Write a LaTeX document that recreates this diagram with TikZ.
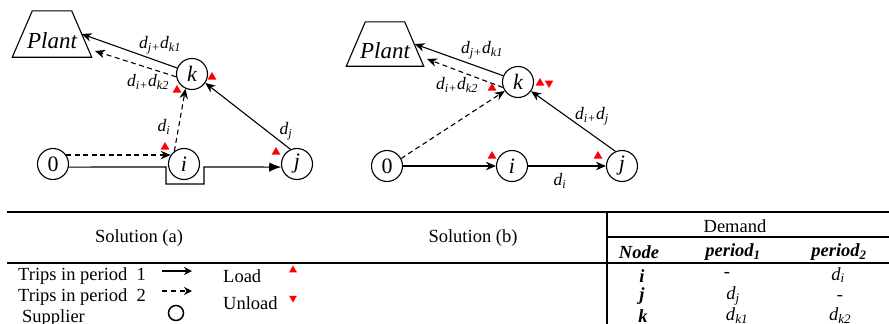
\documentclass[tikz,border=0pt]{standalone}
\usepackage{fontspec}
\setmainfont{Liberation Serif}
\usetikzlibrary{arrows.meta,shapes.geometric,calc}
\newcommand{\dsub}[1]{\textit{d}\textsubscript{\itshape #1}}
\begin{document}
\begin{tikzpicture}[x=1pt,y=-1pt,
  stop/.style={circle,draw,line width=1.1pt,minimum size=31pt,inner sep=0pt,font=\fontsize{22}{22}\selectfont\itshape},
  plantbox/.style={inner sep=0pt,minimum width=79pt,minimum height=46pt},
  plantline/.style={line width=1.1pt,line join=miter},
  planttext/.style={font=\fontsize{23}{23}\selectfont\itshape,inner sep=0pt},
  edge/.style={line width=1.1pt,-{Stealth[length=10pt,width=8.5pt]}},
  trip2/.style={edge,dash pattern=on 5pt off 3.5pt},
  lbl/.style={font=\fontsize{17.5}{17.5}\selectfont,inner sep=0pt},
  loadtri/.style={regular polygon,regular polygon sides=3,fill=red,inner sep=0pt,minimum size=10pt},
  unloadtri/.style={loadtri,shape border rotate=180},
  txt/.style={font=\fontsize{18.5}{18.5}\selectfont,inner sep=0pt},
  btxt/.style={font=\fontsize{18.5}{18.5}\selectfont\bfseries\itshape,inner sep=0pt},
  rule/.style={line width=1.1pt}
]
\useasboundingbox (0,0) rectangle (889,324);

% ---------- Solution (a) ----------
\node[plantbox] (pa) at (52,34) {};
\draw[plantline] (pa.south west) -- (pa.south east) -- ($(pa.north east)+(-20,0)$) -- ($(pa.north west)+(20,0)$) -- cycle;
\node[planttext] (pat) at (52,41) {Plant};
\coordinate (pae) at ($(pa.east)+(-10,0)$);
\coordinate (pad) at (95,51);
\node[stop,font=\fontsize{22}{22}\selectfont] (a0) at (53,164) {0};
\node[stop] (ai) at (184,164) {i};
\node[stop] (aj) at (297,164) {j};
\node[stop] (ak) at (192,74) {k};

\draw[trip2] (a0.34) -- (ai.146);
\draw[line width=1.1pt,-{Latex[length=12pt,width=9.5pt]}] (a0.-11) -- (166,167) -- (166,184) -- (204,184) -- (204,167) -- (aj.191);
\draw[trip2] (ai.127) -- (ak.246);
\draw[edge] (aj.114) -- (ak.-34);
\draw[edge] (ak.158) -- (pae);
\draw[trip2] (ak.190) -- (pad);

\node[lbl] (la1) at (160,45) {\dsub{j+}\dsub{k1}};
\node[lbl] (la2) at (148,82) {\dsub{i+}\dsub{k2}};
\node[lbl] (la3) at (164,127) {\dsub{i}};
\node[lbl] (la4) at (286,131) {\dsub{j}};

\node[loadtri] (ta1) at (212,77) {};
\node[loadtri] (ta2) at (177,90) {};
\node[loadtri] (ta3) at (165,147) {};
\node[loadtri] (ta4) at (276,152) {};

% ---------- Solution (b) ----------
\node[plantbox,minimum width=77pt,minimum height=44pt] (pb) at (385,44) {};
\draw[plantline] (pb.south west) -- (pb.south east) -- ($(pb.north east)+(-19,0)$) -- ($(pb.north west)+(19,0)$) -- cycle;
\node[planttext] (pbt) at (385,51) {Plant};
\coordinate (pbe) at ($(pb.east)+(-9,0)$);
\coordinate (pbd) at (427,59);
\node[stop,font=\fontsize{22}{22}\selectfont] (b0) at (387,166) {0};
\node[stop] (bi) at (512,166) {i};
\node[stop] (bj) at (622,166) {j};
\node[stop] (bk) at (518,82) {k};

\draw[edge] (b0) -- (bi);
\draw[edge] (bi) -- (bj);
\draw[trip2] (b0.28) -- (bk.214);
\draw[edge] (bj.114) -- (bk.-35);
\draw[edge] (bk.157) -- (pbe);
\draw[trip2] (bk.200) -- (pbd);

\node[lbl] (lb1) at (482,50) {\dsub{j+}\dsub{k1}};
\node[lbl] (lb2) at (457,85) {\dsub{i+}\dsub{k2}};
\node[lbl] (lb3) at (592,116) {\dsub{i+}\dsub{j}};
\node[lbl] (lb4) at (560,181) {\dsub{i}};

\node[loadtri] (tb1) at (492,88) {};
\node[loadtri] (tb2) at (540,83) {};
\node[unloadtri] (tb3) at (549,83) {};
\node[loadtri] (tb4) at (492,156) {};
\node[loadtri] (tb5) at (598,156) {};

% ---------- Table ----------
\draw[rule] (7,212) -- (889,212);
\draw[rule] (607,237) -- (889,237);
\draw[rule] (7,263) -- (889,263);
\draw[rule] (607,212) -- (607,324);

\node[txt] (hsa) at (139,238) {Solution (a)};
\node[txt] (hsb) at (473,238) {Solution (b)};
\node[txt] (hdem) at (735,226) {Demand};
\node[btxt] (hnode) at (639,252) {Node};
\node[btxt] (hp1) at (733,252) {period\textsubscript{1}};
\node[btxt] (hp2) at (839,252) {period\textsubscript{2}};

\node[btxt] (ri) at (642,276) {i};
\node[btxt] (rj) at (642,296) {j};
\node[btxt] (rk) at (643,316) {k};
\node[txt] (ri1) at (727,275) {-};
\node[txt] (ri2) at (838,275) {\dsub{i}};
\node[txt] (rj1) at (733,296) {\dsub{j}};
\node[txt] (rj2) at (840,298) {-};
\node[txt] (rk1) at (737,316) {\dsub{k1}};
\node[txt] (rk2) at (840,316) {\dsub{k2}};

% legend
\node[txt,anchor=west] (lg1) at (18,276) {Trips in period\ \ 1};
\node[txt,anchor=west] (lg2) at (18,297) {Trips in period\ \ 2};
\node[txt,anchor=west] (lg3) at (22,318) {Supplier};
\coordinate (l1a) at (162,271);
\coordinate (l1b) at (192,271);
\coordinate (l2a) at (162,291);
\coordinate (l2b) at (192,291);
\draw[line width=1.2pt,-{Stealth[length=8pt,width=8pt]}] (l1a) -- (l1b);
\draw[line width=1.2pt,dash pattern=on 5pt off 4pt,-{Stealth[length=8pt,width=8pt]}] (l2a) -- (l2b);
\node[circle,draw,line width=1.5pt,minimum size=15pt,inner sep=0pt] (lgsup) at (176,313) {};
\node[txt,anchor=west] (lgl) at (223,276) {Load};
\node[txt,anchor=west] (lgu) at (223,303) {Unload};
\node[loadtri,minimum size=9pt] (lgt1) at (293,270) {};
\node[unloadtri,minimum size=9pt] (lgt2) at (293,298) {};
\end{tikzpicture}
\end{document}
